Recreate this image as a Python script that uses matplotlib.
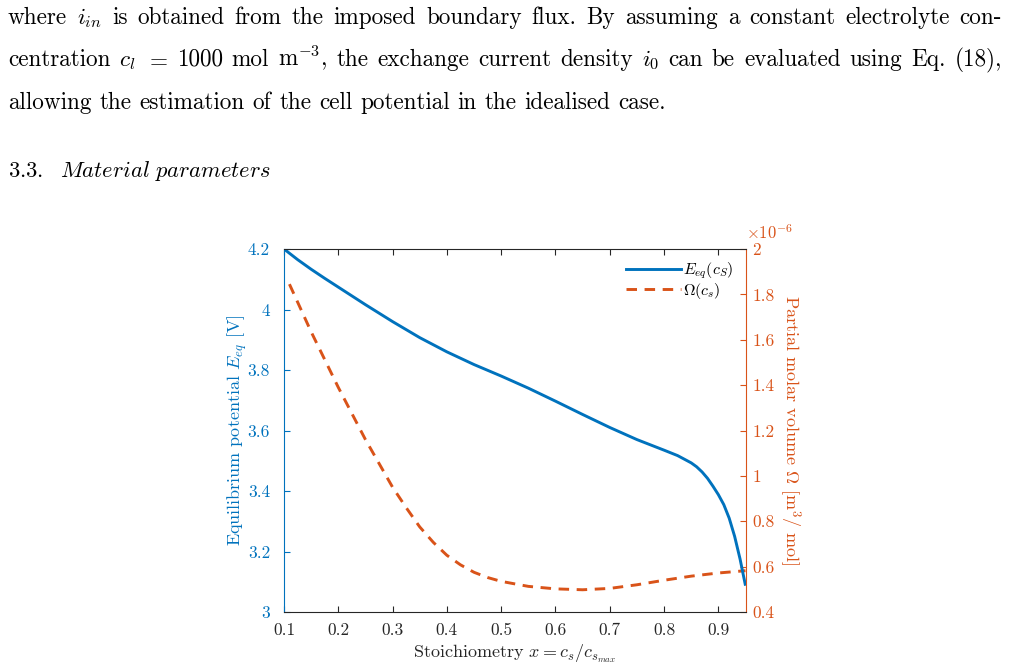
import matplotlib
matplotlib.use("Agg")
import matplotlib.pyplot as plt
from matplotlib.lines import Line2D
from matplotlib.ticker import FixedLocator, FormatStrFormatter

plt.rcParams["font.family"] = "serif"
plt.rcParams["font.serif"] = ["cmr10", "DejaVu Serif"]
plt.rcParams["mathtext.fontset"] = "cm"
plt.rcParams["axes.formatter.use_mathtext"] = True

# stoichiometry vs equilibrium potential [V]
x_eq = [0.10, 0.125, 0.15, 0.175, 0.20, 0.25, 0.30, 0.35, 0.40, 0.45, 0.50, 0.55,
        0.60, 0.65, 0.70, 0.75, 0.80, 0.825, 0.85, 0.86, 0.87, 0.88, 0.89, 0.90,
        0.91, 0.92, 0.93, 0.94, 0.95]
e_eq = [4.200, 4.165, 4.133, 4.103, 4.074, 4.016, 3.960, 3.907, 3.860, 3.818, 3.780, 3.740,
        3.697, 3.653, 3.610, 3.570, 3.535, 3.517, 3.493, 3.480, 3.463, 3.442, 3.416, 3.388,
        3.355, 3.310, 3.250, 3.175, 3.087]

# stoichiometry vs partial molar volume [1e-6 m^3/mol]
x_om = [0.11, 0.15, 0.20, 0.25, 0.30, 0.325, 0.35, 0.375, 0.40, 0.425, 0.45, 0.475,
        0.50, 0.55, 0.60, 0.65, 0.70, 0.75, 0.80, 0.85, 0.90, 0.95]
omega = [1.845, 1.635, 1.390, 1.160, 0.950, 0.860, 0.775, 0.707, 0.650, 0.608, 0.575, 0.552,
         0.535, 0.513, 0.502, 0.498, 0.504, 0.520, 0.540, 0.558, 0.572, 0.582]

x_ticks = [0.1, 0.2, 0.3, 0.4, 0.5, 0.6, 0.7, 0.8, 0.9]
left_ticks = [3, 3.2, 3.4, 3.6, 3.8, 4, 4.2]
right_ticks = [0.4, 0.6, 0.8, 1, 1.2, 1.4, 1.6, 1.8, 2]

para_lines = [
    "where $i_{in}$ is obtained from the imposed boundary flux. By assuming a constant electrolyte con-",
    "centration $c_l$ $=$ 1000 mol m$^{-3}$, the exchange current density $i_0$ can be evaluated using Eq. (18),",
    "allowing the estimation of the cell potential in the idealised case.",
]
heading = r"$\mathrm{3.3.}\ \ \mathit{Material\ parameters}$"

BLUE = "#0072BD"
ORANGE = "#D95319"
DARK = "#262626"

W, H = 1009, 669
fig = plt.figure(figsize=(W / 100, H / 100), dpi=100)
fig.patch.set_facecolor("white")

# ---- paragraph text, justified by hand ----
FS = 16.7
rend = fig.canvas.get_renderer()
baselines = [24, 66, 109]
for k, line in enumerate(para_lines):
    words = line.split(" ")
    tx = [fig.text(0, 1 - baselines[k] / H, w, fontsize=FS, va="baseline", ha="left", color="black")
          for w in words]
    ws = [t.get_window_extent(rend).width for t in tx]
    x0, x1 = 8, 1002
    if k < 2:
        gap = (x1 - x0 - sum(ws)) / (len(ws) - 1)
    else:
        gap = FS * 1.389 * 0.34
    xx = x0
    for t, w in zip(tx, ws):
        t.set_x(xx / W)
        xx += w + gap

fig.text(8 / W, 1 - 177 / H, heading, fontsize=16.2, va="baseline", ha="left")

# ---- chart ----
ax = fig.add_axes([284 / W, 1 - 612 / H, (745.5 - 284) / W, (612 - 249) / H])
ax2 = ax.twinx()

ax.plot(x_eq, e_eq, color=BLUE, lw=2.1, solid_capstyle="butt", solid_joinstyle="round")
ax2.plot(x_om, omega, color=ORANGE, lw=2.1, dashes=(3.6, 2.6))

ax.set_xlim(0.1, 0.95)
ax.set_ylim(3, 4.2)
ax2.set_ylim(0.4, 2)

ax.xaxis.set_major_locator(FixedLocator(x_ticks))
ax.yaxis.set_major_locator(FixedLocator(left_ticks))
ax2.yaxis.set_major_locator(FixedLocator(right_ticks))
ax.xaxis.set_major_formatter(FormatStrFormatter("%g"))
ax.yaxis.set_major_formatter(FormatStrFormatter("%g"))
ax2.yaxis.set_major_formatter(FormatStrFormatter("%g"))

ax.tick_params(axis="x", direction="in", top=True, length=4, width=0.8, colors=DARK,
               labelsize=12.5, pad=8)
ax.tick_params(axis="y", direction="in", right=False, length=4, width=0.8, colors=BLUE,
               labelsize=12.5, pad=10)
ax2.tick_params(axis="y", direction="in", length=4, width=0.8, colors=ORANGE,
                labelsize=12.5, pad=5)

for s in ["top", "bottom"]:
    ax.spines[s].set_color(DARK)
    ax.spines[s].set_linewidth(0.8)
ax.spines["left"].set_color(BLUE)
ax.spines["right"].set_visible(False)
ax2.spines["right"].set_color(ORANGE)
for s in ["left", "top", "bottom"]:
    ax2.spines[s].set_visible(False)

ax.set_xlabel(r"Stoichiometry $x = c_s/c_{s_{max}}$", fontsize=13, color=DARK)
ax.xaxis.set_label_coords(0.5, -0.084)
ax.set_ylabel(r"Equilibrium potential $E_{eq}$ [V]", fontsize=13, color=BLUE)
ax.yaxis.set_label_coords(-0.076, 0.5)
ax2.set_ylabel(r"Partial molar volume $\Omega$ [m$^3$/ mol]", fontsize=13, color=ORANGE,
               rotation=270, va="bottom")
ax2.yaxis.set_label_coords(1.068, 0.5)

ax2.text(1.0, 1.018, r"$\times10^{-6}$", transform=ax2.transAxes, color=ORANGE,
         fontsize=12, ha="left", va="bottom")

ax.set_zorder(ax2.get_zorder() + 1)
ax.patch.set_visible(False)

h = [Line2D([], [], color=BLUE, lw=2.1),
     Line2D([], [], color=ORANGE, lw=2.1, dashes=(3.6, 2.6))]
ax.legend(h, [r"$E_{eq}(c_S)$", r"$\Omega(c_s)$"], loc="upper right",
          bbox_to_anchor=(0.995, 0.995), frameon=False, fontsize=11.5,
          handlelength=3.4, handletextpad=0.15, labelspacing=0.0, borderaxespad=0.2)

fig.savefig("out.png", dpi=100)
